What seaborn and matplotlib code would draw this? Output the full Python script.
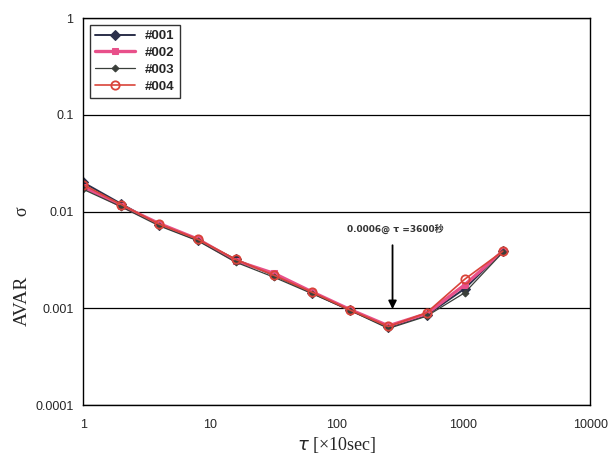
import pandas as pd
import seaborn as sns
import matplotlib.pyplot as plt
from matplotlib.ticker import FixedLocator, FixedFormatter, NullLocator

# Averaging time tau [x10 sec]
tau = [1, 2, 4, 8, 16, 32, 64, 128, 256, 512, 1024, 2048]

# Allan deviation per sample
s001 = [0.020, 0.0120, 0.0073, 0.0051, 0.0032, 0.0022, 0.00145, 0.00096, 0.00064, 0.00085, 0.00160, 0.0039]
s002 = [0.018, 0.0115, 0.0075, 0.0052, 0.0031, 0.0023, 0.00148, 0.00097, 0.00066, 0.00088, 0.00175, 0.0039]
s003 = [0.017, 0.0112, 0.0071, 0.0050, 0.0030, 0.0021, 0.00142, 0.00095, 0.00062, 0.00083, 0.00145, 0.0038]
s004 = [0.019, 0.0118, 0.0074, 0.0052, 0.0032, 0.0022, 0.00147, 0.00096, 0.00065, 0.00090, 0.00200, 0.0039]

series = {"#001": s001, "#002": s002, "#003": s003, "#004": s004}

xticks = [1, 10, 100, 1000, 10000]
xticklabels = ["1", "10", "100", "1000", "10000"]
yticks = [0.0001, 0.001, 0.01, 0.1, 1]
yticklabels = ["0.0001", "0.001", "0.01", "0.1", "1"]

# long-form table
df = pd.concat([pd.DataFrame({"tau": tau, "sigma": v, "sample": k}) for k, v in series.items()])

sns.set_style("white")
plt.rcParams['font.family'] = ['Liberation Sans', 'DejaVu Sans', 'Noto Sans CJK JP']

fig = plt.figure(figsize=(6.16, 4.62), dpi=100)
ax = fig.add_axes([0.135, 0.123, 0.823, 0.838])

styles = {
    "#001": dict(color="#2b2f4a", marker="D", markersize=5, linewidth=1.4, markerfacecolor="#2b2f4a"),
    "#002": dict(color="#e8508a", marker="s", markersize=5, linewidth=2.4, markerfacecolor="#e8508a"),
    "#003": dict(color="#3a3f3a", marker="D", markersize=3.5, linewidth=0.9, markerfacecolor="#3a3f3a"),
    "#004": dict(color="#d9443a", marker="o", markersize=6, linewidth=1.2, markerfacecolor="none",
                 markeredgewidth=1.3),
}

for name, st in styles.items():
    sns.lineplot(data=df[df["sample"] == name], x="tau", y="sigma", ax=ax, label=name,
                 markeredgecolor=st["color"], **st)

ax.set_xscale("log")
ax.set_yscale("log")
ax.set_xlim(1, 10000)
ax.set_ylim(0.0001, 1)

ax.xaxis.set_major_locator(FixedLocator(xticks))
ax.xaxis.set_major_formatter(FixedFormatter(xticklabels))
ax.xaxis.set_minor_locator(NullLocator())
ax.yaxis.set_major_locator(FixedLocator(yticks))
ax.yaxis.set_major_formatter(FixedFormatter(yticklabels))
ax.yaxis.set_minor_locator(NullLocator())
ax.tick_params(axis="both", labelsize=9, length=0, pad=7)
ax.tick_params(axis="x", pad=10)

# horizontal grid lines only
ax.yaxis.grid(True, color="black", linewidth=0.9)
ax.xaxis.grid(False)
for sp in ax.spines.values():
    sp.set_color("black")
    sp.set_linewidth(1.0)

serif = ["Liberation Serif", "DejaVu Serif"]
ax.set_xlabel(r"$\tau$ [×10sec]", family=serif, fontsize=13, labelpad=3)
ax.set_ylabel("")
# y label split: "AVAR" lower, sigma at the 0.01 line
ax.text(-0.12, 0.27, "AVAR", transform=ax.transAxes, rotation=90, ha="center", va="center",
        fontsize=14, family=serif)
ax.text(-0.12, 0.5, "σ", transform=ax.transAxes, rotation=90, ha="center", va="center",
        fontsize=13, family=serif)

# minimum annotation
ax.annotate("", xy=(276, 0.00092), xytext=(276, 0.0048),
            arrowprops=dict(arrowstyle="-|>", color="black", lw=1.3, mutation_scale=12))
ax.text(290, 0.0058, "0.0006@ τ =3600秒", ha="center", va="bottom", fontsize=6.5, fontweight="bold",
        family=["DejaVu Sans", "Noto Sans CJK JP"], color="#333333")

leg = ax.legend(loc="upper left", fontsize=9.5, frameon=True, fancybox=False, edgecolor="black",
                borderpad=0.4, labelspacing=0.35, handlelength=3.0, borderaxespad=0.5)
leg.get_frame().set_linewidth(1.0)
for t in leg.get_texts():
    t.set_fontweight("bold")

fig.savefig("out.png", dpi=100)
